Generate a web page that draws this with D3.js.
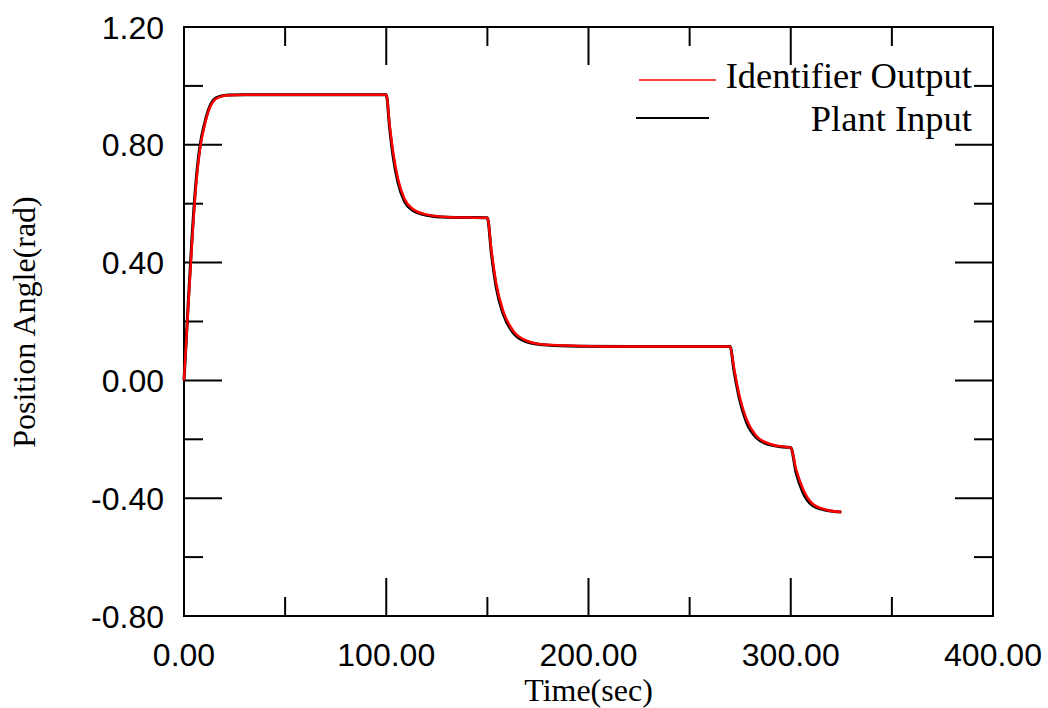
<!DOCTYPE html>
<html>
<head>
<meta charset="utf-8">
<script src="https://cdn.jsdelivr.net/npm/d3@7"></script>
<style>
  body { margin: 0; background: #fff; }
  .tick-label { font-family: "Liberation Sans", Arial, sans-serif; font-size: 32px; fill: #000; }
  .serif { font-family: "Liberation Serif", "Times New Roman", serif; fill: #000; }
</style>
</head>
<body>
<div id="chart"></div>
<script>
const width = 1048;
const height = 708;

// time (sec) samples
const times = [0, 2, 4, 6, 8, 10, 12, 15, 18, 22, 30,
  100, 101.7, 103.4, 105.8, 109, 113, 120, 130, 140,
  150, 152, 154.4, 157.7, 162.6, 169, 179, 195, 220,
  270, 272, 274.6, 278, 282.8, 289.4, 297.6,
  300, 302.6, 306, 310.8, 317.4, 325];

const identifierOutput = [0, 0.24, 0.47, 0.667, 0.79, 0.86, 0.912, 0.952, 0.963, 0.968, 0.97,
  0.97, 0.866, 0.775, 0.685, 0.617, 0.583, 0.563, 0.555, 0.553,
  0.552, 0.441, 0.328, 0.238, 0.170, 0.136, 0.121, 0.117, 0.115,
  0.115, 0.040, -0.051, -0.130, -0.187, -0.215, -0.226,
  -0.228, -0.300, -0.368, -0.419, -0.439, -0.447];

const plantInput = [0, 0.25, 0.49, 0.68, 0.80, 0.868, 0.917, 0.955, 0.965, 0.969, 0.97,
  0.97, 0.855, 0.760, 0.672, 0.608, 0.578, 0.561, 0.554, 0.553,
  0.552, 0.430, 0.315, 0.228, 0.163, 0.132, 0.120, 0.116, 0.115,
  0.115, 0.030, -0.062, -0.140, -0.193, -0.218, -0.227,
  -0.228, -0.312, -0.380, -0.425, -0.441, -0.447];

const xMajor = [0, 100, 200, 300, 400];
const xMinor = [50, 150, 250, 350];
const yMajor = [-0.8, -0.4, 0, 0.4, 0.8, 1.2];
const yMinor = [-0.6, -0.2, 0.2, 0.6, 1.0];

const legendItems = [
  { label: "Identifier Output", color: "#ff0000" },
  { label: "Plant Input", color: "#000000" }
];

const margin = { left: 184, right: 55, top: 27, bottom: 92 };

const svg = d3.select("#chart")
  .append("svg")
  .attr("width", width)
  .attr("height", height);

svg.append("rect").attr("width", width).attr("height", height).attr("fill", "#fff");

const x = d3.scaleLinear().domain([0, 400]).range([margin.left, width - margin.right]);
const y = d3.scaleLinear().domain([-0.8, 1.2]).range([height - margin.bottom, margin.top]);

const majorLen = 38, minorLen = 19;
const fmt = d => d.toFixed(2); // plain hyphen for negatives, as in the original

// frame
svg.append("rect")
  .attr("x", x(0)).attr("y", y(1.2))
  .attr("width", x(400) - x(0)).attr("height", y(-0.8) - y(1.2))
  .attr("fill", "none").attr("stroke", "#000").attr("stroke-width", 2);

// inward ticks on all four sides
const ticks = svg.append("g").attr("stroke", "#000").attr("stroke-width", 2);
[[xMajor, majorLen], [xMinor, minorLen]].forEach(([vals, len]) => {
  vals.forEach(v => {
    ticks.append("line").attr("x1", x(v)).attr("x2", x(v)).attr("y1", y(-0.8)).attr("y2", y(-0.8) - len);
    ticks.append("line").attr("x1", x(v)).attr("x2", x(v)).attr("y1", y(1.2)).attr("y2", y(1.2) + len);
  });
});
[[yMajor, majorLen], [yMinor, minorLen]].forEach(([vals, len]) => {
  vals.forEach(v => {
    ticks.append("line").attr("y1", y(v)).attr("y2", y(v)).attr("x1", x(0)).attr("x2", x(0) + len);
    ticks.append("line").attr("y1", y(v)).attr("y2", y(v)).attr("x1", x(400)).attr("x2", x(400) - len);
  });
});

// tick labels
svg.selectAll(".xlab")
  .data(xMajor)
  .join("text")
  .attr("class", "tick-label")
  .attr("x", d => x(d))
  .attr("y", y(-0.8) + 50)
  .attr("text-anchor", "middle")
  .text(fmt);

svg.selectAll(".ylab")
  .data(yMajor)
  .join("text")
  .attr("class", "tick-label")
  .attr("x", x(0) - 20)
  .attr("y", d => y(d))
  .attr("dy", "0.36em")
  .attr("text-anchor", "end")
  .text(fmt);

// axis titles
svg.append("text")
  .attr("class", "serif")
  .attr("x", x(200))
  .attr("y", 701)
  .attr("text-anchor", "middle")
  .style("font-size", "32px")
  .text("Time(sec)");

svg.append("text")
  .attr("class", "serif")
  .attr("transform", `translate(35,322) rotate(-90)`)
  .attr("text-anchor", "middle")
  .style("font-size", "32px")
  .text("Position Angle(rad)");

// series
const line = series => d3.line()
  .x((d, i) => x(times[i]))
  .y(d => y(d))
  .curve(d3.curveMonotoneX)(series);

svg.append("path")
  .attr("d", line(plantInput))
  .attr("fill", "none")
  .attr("stroke", "#000")
  .attr("stroke-width", 3);

svg.append("path")
  .attr("d", line(identifierOutput))
  .attr("fill", "none")
  .attr("stroke", "#ff0000")
  .attr("stroke-width", 2.5);

// legend
const legend = svg.append("g");
legend.append("line")
  .attr("x1", 639).attr("x2", 716).attr("y1", 80).attr("y2", 80)
  .attr("stroke", legendItems[0].color).attr("stroke-width", 1.5);
legend.append("line")
  .attr("x1", 636).attr("x2", 709).attr("y1", 118).attr("y2", 118)
  .attr("stroke", legendItems[1].color).attr("stroke-width", 2);
legend.selectAll("text")
  .data(legendItems)
  .join("text")
  .attr("class", "serif")
  .attr("x", 972)
  .attr("y", (d, i) => 88 + i * 43)
  .attr("text-anchor", "end")
  .style("font-size", "36.5px")
  .text(d => d.label);
</script>
</body>
</html>
